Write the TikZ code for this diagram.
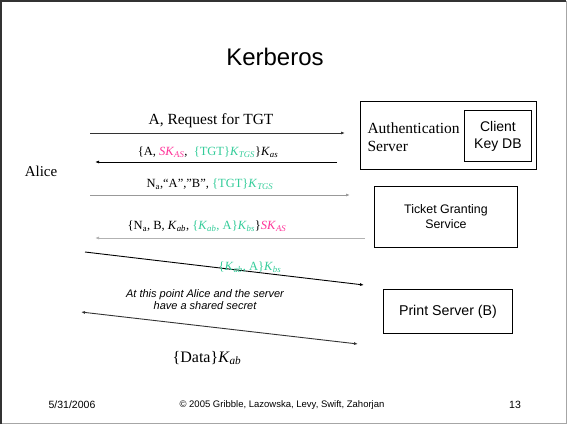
\documentclass[tikz,border=0pt]{standalone}
\usepackage{fontspec}
\setmainfont{Liberation Serif}
\newfontfamily\arial{Liberation Sans}
\usetikzlibrary{arrows.meta}
\definecolor{pk}{HTML}{FF3399}
\definecolor{tl}{HTML}{33CC99}
\definecolor{dg}{HTML}{333333}
\newcommand{\kk}[2]{\textit{#1}\textsubscript{\textit{#2}}}
\begin{document}
\begin{tikzpicture}[x=1pt,y=-1pt,
  msg/.style={line width=0.9pt,-{Latex[length=4pt,width=3pt]}},
  lbl/.style={inner sep=0pt,font=\fontsize{12.5}{14}\selectfont},
  sans/.style 2 args={font=\arial\fontsize{#1}{#2}\selectfont,align=center}]
\useasboundingbox (0,0) rectangle (568,426);
% slide frame
\draw[gray!70,line width=1pt] (1,1) rectangle (566,423);
\draw[dg,line width=2.2pt] (1.1,424) -- (1.1,1.1) -- (566,1.1);
% title
\node[sans={24}{28}] (title) at (275,57) {Kerberos};
% actors
\node[font=\fontsize{15}{18}\selectfont] (alice) at (41,171) {Alice};
\node[draw,line width=0.9pt,minimum width=176pt,minimum height=68pt,anchor=north west] (as) at (360,101) {};
\node[draw,line width=0.9pt,minimum width=67pt,minimum height=51pt,anchor=north west,sans={14}{17}] (kdb) at (464,110) {Client\\Key DB};
\node[anchor=west,align=left,font=\fontsize{15.5}{18}\selectfont] (astext) at (364,137) {Authentication\\Server};
\node[draw,line width=0.9pt,minimum width=143pt,minimum height=61pt,anchor=north west,sans={12.4}{15}] (tgs) at (374,186) {Ticket Granting\\Service};
\node[draw,line width=0.9pt,minimum width=129pt,minimum height=44pt,anchor=north west,sans={14.2}{17}] (ps) at (383,289) {Print Server (B)};
% connector end points
\coordinate (a1) at (90,133);   \coordinate (b1) at (345,133);
\coordinate (a2) at (337,162);  \coordinate (b2) at (95,162);
\coordinate (a3) at (90,195);   \coordinate (b3) at (350,195);
\coordinate (a4) at (365,238);  \coordinate (b4) at (95,238);
\coordinate (a5) at (85,252);   \coordinate (b5) at (364,285);
\coordinate (a6) at (81,312);   \coordinate (b6) at (358,344);
% messages
\draw[msg,dg] (a1) -- (b1);
\node[lbl,font=\fontsize{15.5}{18}\selectfont] (m1) at (211,121) {A, Request for TGT};
\draw[msg,black] (a2) -- (b2);
\node[lbl] (m2) at (208,152) {\{A, \textcolor{pk}{\kk{SK}{AS}},\ \ \textcolor{tl}{\{TGT\}\kk{K}{TGS}}\}\kk{K}{as}};
\draw[msg,gray!80] (a3) -- (b3);
\node[lbl] (m3) at (210,184) {N\textsubscript{a},“A”,”B”, \textcolor{tl}{\{TGT\}\kk{K}{TGS}}};
\draw[msg,gray!60] (a4) -- (b4);
\node[lbl] (m4) at (207,226) {\{N\textsubscript{a}, B, \kk{K}{ab}, \textcolor{tl}{\{\kk{K}{ab}, A\}\kk{K}{bs}}\}\textcolor{pk}{\kk{SK}{AS}}};
\draw[msg,black] (a5) -- (b5);
\node[lbl] (m5) at (250,267) {\textcolor{tl}{\{\kk{K}{ab}, A\}\kk{K}{bs}}};
\node[font=\arial\itshape\fontsize{11}{12}\selectfont,align=center] (note) at (205,300) {At this point Alice and the server\\have a shared secret};
\draw[dg,line width=0.9pt,{Latex[length=4pt,width=3pt]}-{Latex[length=4pt,width=3pt]}] (a6) -- (b6);
\node[lbl,font=\fontsize{16}{18}\selectfont] (m6) at (207,358) {\{Data\}\kk{K}{ab}};
% footer
\node[sans={10.5}{12}] (date) at (72,405) {5/31/2006};
\node[sans={9.5}{11}] (copy) at (282,405) {© 2005 Gribble, Lazowska, Levy, Swift, Zahorjan};
\node[sans={10.5}{12}] (page) at (515,405) {13};
\end{tikzpicture}
\end{document}
